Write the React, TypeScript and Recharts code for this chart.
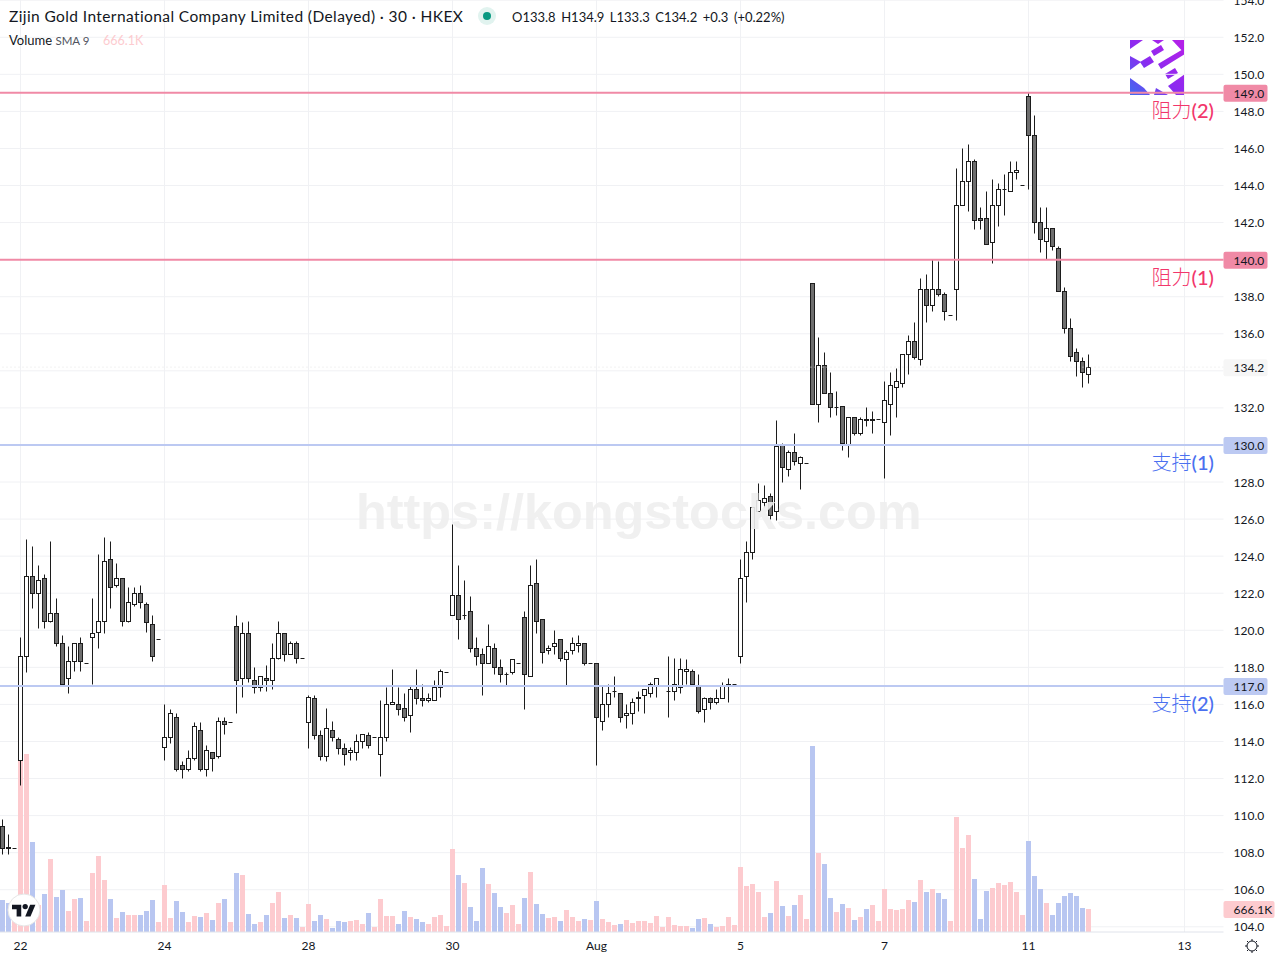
import React from 'react';
import { ComposedChart, Bar, XAxis, YAxis, CartesianGrid, ReferenceLine } from 'recharts';

const opens = [
  109.4, 108.3, 108.2, 113.0, 118.6, 122.9, 122.0, 122.8, 120.5, 120.9, 119.3, 117.4,
  118.3, 119.3, 118.2, 119.6, 119.9, 120.5, 123.8, 122.4, 122.8, 120.5, 121.4, 122.0, 121.4, 120.3, 119.5,
  113.7, 114.2, 115.3, 112.7, 112.5, 113.1, 114.6, 112.5, 113.4, 113.2, 115.1, 115.0,
  120.2, 117.4, 119.8, 117.3, 116.9, 117.4, 117.3, 118.5, 119.8, 118.7, 119.3, 118.5,
  115.0, 116.3, 114.3, 113.2, 114.6, 114.1, 113.6, 113.4, 113.4, 114.0, 114.3, 114.2,
  113.3, 114.2, 116.0, 116.0, 115.8, 115.4, 116.8, 116.3, 116.2, 116.2, 116.9, 117.7,
  120.8, 121.9, 120.8, 121.0, 119.0, 118.7, 118.2, 119.0, 118.0, 117.6, 117.7, 118.2,
  120.7, 117.5, 122.5, 120.6, 118.9, 119.1, 119.5, 118.4, 118.9, 119.2, 119.3, 118.2,
  118.2, 115.1, 116.0, 116.7, 116.6, 115.4, 115.5, 116.3, 116.5, 116.6, 117.0, 117.0,
  116.7, 116.7, 116.9, 117.8, 117.8, 117.0, 115.7, 116.3, 116.1, 116.3, 117.0, 117.1,
  118.6, 122.9, 124.2, 126.4, 126.9, 127.2, 126.4, 130.0, 128.7, 129.6, 129.0, 129.0,
  138.7, 132.2, 134.3, 132.8, 132.0, 132.1, 130.0, 131.5, 130.6, 131.4, 131.3, 131.4,
  131.2, 132.2, 133.1, 133.3, 134.9, 135.6, 134.6, 138.4, 137.5, 138.4, 138.1, 137.0,
  138.4, 142.9, 144.2, 145.3, 142.2, 142.2, 140.9, 142.9, 143.8, 143.7, 144.7, 144.0,
  148.8, 146.7, 142.0, 141.0, 141.7, 140.6, 138.3, 136.3, 135.0, 134.5, 133.8,
];
const highs = [
  109.8, 109.0, 108.2, 119.6, 124.9, 124.5, 123.5, 123.0, 124.8, 121.7, 119.7, 119.1,
  119.3, 119.6, 118.2, 121.7, 124.1, 125.0, 124.8, 123.6, 122.8, 122.3, 122.3, 122.4, 121.5, 120.8, 119.5,
  116.0, 115.7, 115.5, 112.9, 113.5, 115.0, 115.0, 113.8, 113.4, 115.3, 115.3, 115.0,
  120.8, 120.4, 120.5, 118.0, 117.5, 118.1, 119.3, 120.5, 119.8, 119.4, 119.4, 118.5,
  116.5, 116.5, 114.6, 115.8, 115.1, 114.2, 113.9, 113.7, 114.4, 114.4, 114.5, 114.2,
  116.2, 116.9, 117.9, 116.9, 116.6, 117.0, 117.9, 117.1, 116.6, 117.3, 117.9, 117.7,
  125.7, 123.5, 122.7, 121.8, 119.6, 119.0, 120.3, 119.3, 118.4, 117.7, 118.4, 118.2,
  121.0, 123.5, 123.8, 120.6, 119.2, 120.0, 119.5, 118.9, 119.6, 119.7, 119.3, 118.2,
  118.2, 117.0, 117.1, 117.5, 116.6, 116.0, 116.3, 116.7, 116.8, 117.2, 117.4, 117.0,
  118.6, 118.5, 118.5, 118.4, 117.9, 117.6, 116.4, 116.4, 116.8, 117.2, 117.4, 117.1,
  123.8, 124.8, 126.6, 127.9, 127.8, 127.4, 131.3, 130.1, 129.7, 130.6, 129.4, 129.0,
  138.7, 135.8, 135.0, 133.9, 132.9, 132.1, 131.5, 131.5, 131.5, 132.0, 131.8, 131.4,
  133.4, 133.9, 134.1, 134.9, 135.9, 136.6, 139.0, 139.2, 140.0, 139.9, 138.2, 137.0,
  144.9, 146.0, 146.2, 145.4, 142.8, 143.7, 144.3, 144.1, 144.6, 145.3, 145.3, 144.0,
  149.0, 147.8, 142.8, 142.8, 141.7, 140.7, 138.5, 136.8, 135.2, 134.7, 134.9,
];
const lows = [
  107.9, 107.9, 108.2, 111.6, 117.7, 121.2, 120.1, 120.1, 120.4, 119.1, 117.0, 116.6,
  117.8, 117.8, 118.2, 117.1, 119.0, 119.8, 121.2, 122.3, 120.2, 120.4, 121.3, 121.2, 119.9, 118.3, 119.5,
  113.0, 113.9, 112.4, 112.0, 112.4, 113.0, 112.4, 112.1, 112.4, 113.1, 114.4, 115.0,
  115.5, 116.4, 117.2, 116.6, 116.7, 116.7, 116.8, 118.4, 118.3, 118.7, 118.2, 118.5,
  113.6, 114.1, 113.0, 112.9, 114.0, 113.3, 112.7, 113.0, 113.0, 113.6, 113.6, 114.2,
  112.1, 114.0, 116.0, 115.4, 115.1, 114.5, 116.0, 115.9, 116.1, 116.2, 116.4, 117.7,
  120.8, 119.5, 120.6, 118.8, 118.1, 116.5, 118.2, 117.6, 117.2, 117.0, 117.6, 118.2,
  115.7, 117.5, 119.8, 118.2, 118.7, 118.7, 118.3, 117.0, 118.7, 118.8, 118.1, 118.2,
  112.7, 114.6, 115.3, 116.4, 115.0, 114.7, 114.9, 115.6, 115.5, 116.4, 116.4, 117.0,
  115.3, 116.2, 116.6, 117.1, 117.1, 115.5, 115.0, 115.7, 116.0, 116.3, 116.1, 117.1,
  118.2, 121.5, 123.8, 126.4, 126.6, 126.0, 125.9, 128.0, 128.3, 128.9, 127.6, 129.0,
  132.2, 131.2, 132.8, 131.5, 131.6, 129.7, 129.3, 130.5, 130.5, 131.0, 130.6, 131.4,
  128.2, 130.5, 131.5, 133.1, 133.8, 134.6, 134.3, 136.6, 137.2, 138.0, 136.7, 137.0,
  136.7, 142.9, 142.6, 141.6, 141.6, 140.8, 139.8, 141.8, 142.4, 143.7, 144.3, 144.0,
  143.8, 141.4, 140.4, 140.0, 140.5, 138.3, 136.0, 134.5, 133.7, 133.1, 133.3,
];
const closes = [
  108.2, 108.2, 108.2, 118.6, 122.9, 122.0, 122.7, 120.5, 120.9, 119.3, 117.1, 118.3,
  119.3, 118.3, 118.2, 119.8, 120.5, 123.7, 122.3, 122.8, 120.5, 121.5, 122.0, 121.5, 120.4, 118.6, 119.5,
  114.2, 115.5, 112.5, 112.5, 113.1, 114.8, 112.5, 113.5, 113.1, 115.1, 114.9, 115.0,
  117.3, 119.8, 117.4, 116.9, 117.5, 117.3, 118.5, 119.8, 118.7, 119.3, 118.5, 118.5,
  116.4, 114.3, 113.2, 114.7, 114.2, 113.6, 113.3, 113.5, 114.0, 114.4, 113.8, 114.2,
  114.2, 116.0, 116.1, 115.7, 115.3, 116.8, 116.3, 116.2, 116.3, 116.9, 117.8, 117.7,
  121.9, 120.6, 120.8, 119.0, 118.6, 118.2, 119.1, 118.0, 117.6, 117.6, 118.4, 118.2,
  117.6, 122.4, 120.5, 118.8, 119.0, 119.3, 118.5, 118.8, 119.3, 119.3, 118.2, 118.2,
  115.3, 116.0, 116.6, 116.7, 115.3, 115.5, 116.1, 116.4, 116.8, 117.1, 117.4, 117.0,
  116.7, 117.1, 117.9, 117.9, 117.1, 115.6, 116.3, 116.1, 116.3, 117.0, 117.1, 117.1,
  122.8, 124.2, 126.6, 127.0, 127.1, 126.2, 129.9, 128.8, 129.6, 129.1, 129.3, 129.0,
  132.2, 134.3, 132.8, 132.0, 132.0, 130.1, 131.5, 130.6, 131.4, 131.3, 131.4, 131.4,
  132.4, 133.2, 133.4, 134.9, 135.6, 134.7, 138.4, 137.5, 138.4, 138.1, 137.2, 137.0,
  142.9, 144.2, 145.3, 142.1, 142.1, 140.8, 142.9, 143.8, 143.8, 144.7, 144.8, 144.0,
  146.7, 142.0, 141.1, 141.7, 140.7, 138.3, 136.3, 134.8, 134.5, 133.9, 134.2,
];
// volume in thousands of shares
const volumes = [
  928, 841, 667, 5075, 5162, 2610, 783, 1102, 2117, 1015, 1218, 609,
  957, 986, 319, 1711, 2204, 1508, 957, 406, 580, 493, 493, 493, 609, 928, 290,
  1363, 406, 899, 580, 290, 464, 435, 551, 348, 841, 957, 290,
  1711, 1653, 522, 232, 290, 493, 841, 1160, 406, 493, 406, 145,
  812, 319, 493, 377, 116, 319, 290, 319, 348, 232, 551, 145,
  957, 464, 464, 232, 609, 435, 377, 290, 232, 435, 493, 174,
  2407, 1653, 1421, 725, 319, 1856, 1392, 1131, 725, 551, 783, 232,
  986, 1740, 812, 522, 406, 435, 319, 638, 435, 319, 377, 348,
  899, 377, 290, 203, 232, 348, 261, 319, 319, 261, 464, 145,
  435, 203, 174, 174, 116, 377, 406, 232, 145, 174, 435, 203,
  1885, 1334, 1392, 1160, 435, 551, 1479, 754, 464, 783, 1073, 377,
  5394, 2291, 1972, 986, 580, 812, 696, 348, 435, 667, 783, 319,
  1247, 667, 638, 667, 928, 870, 1508, 1160, 1247, 1131, 957, 319,
  3335, 2436, 2813, 1537, 377, 1189, 1276, 1421, 1363, 1450, 1160, 493,
  2639, 1624, 1247, 841, 493, 841, 1044, 1131, 1044, 696, 666,
];

const FUTURE_SLOTS = 22; // empty time slots right of the last bar
const dateTicks = [3, 27, 51, 75, 99, 123, 147, 171, 197];
const dateLabels = ['22', '24', '28', '30', 'Aug', '5', '7', '11', '13'];
const priceTicks = [104, 106, 108, 110, 112, 114, 116, 118, 120, 122, 124, 126, 128, 130, 132, 134, 136, 138, 140, 142, 144, 146, 148, 150, 152, 154];
const taggedTicks = [130, 134, 140]; // these axis labels sit under a price tag
const resistances = [149, 140];
const supports = [130, 117];
const lastPrice = 134.2;
const lastVolume = 666;

const data = Array.from({ length: opens.length + FUTURE_SLOTS }, (_, slot) => ({
  slot,
  open: opens[slot],
  high: highs[slot],
  low: lows[slot],
  close: closes[slot],
  volume: volumes[slot],
}));

const FONT = 'Lato, "Open Sans", sans-serif';
const INK = '#131722';

const snap = (v: number) => Math.floor(v) + 0.5;

const Candle = (props: any) => {
  const { x, y, width, height, payload } = props;
  if (payload.open === undefined) return null;
  const { open, high, low, close } = payload;
  const span = high - low || 1;
  const h = Math.abs(height);
  const top = Math.min(y, y + height);
  const yOf = (v: number) => top + ((high - v) / span) * h;
  const cx = snap(x + width / 2) - 1; // recharts rounds the bar offset inside a 6px band
  const bodyTop = snap(yOf(Math.max(open, close)));
  const bodyBottom = snap(yOf(Math.min(open, close)));
  const left = cx - 2;
  if (high === low) {
    return <line x1={left} x2={left + 4} y1={bodyTop} y2={bodyTop} stroke="#1c1c1c" />;
  }
  return (
    <g>
      <line x1={cx} x2={cx} y1={snap(top)} y2={snap(top + h)} stroke="#1c1c1c" />
      {bodyTop === bodyBottom ? (
        <line x1={left} x2={left + 4} y1={bodyTop} y2={bodyTop} stroke="#1c1c1c" />
      ) : (
        <rect x={left} y={bodyTop} width={4} height={bodyBottom - bodyTop} stroke="#1c1c1c" fill={close >= open ? '#ffffff' : '#6e6e6e'} />
      )}
    </g>
  );
};

const VolumeBar = (props: any) => {
  const { x, y, width, height, payload } = props;
  return <rect x={Math.floor(x)} y={y} width={width} height={height} fill={payload.close >= payload.open ? '#fdcbcf' : '#b8c6f1'} />;
};

const PriceTick = ({ x, y, payload }: any) => {
  if (taggedTicks.includes(payload.value)) return null;
  return (
    <text x={x} y={y + 4.5} fontSize={12} fontFamily={FONT} fill={INK}>{payload.value.toFixed(1)}</text>
  );
};

const PriceTag = ({ viewBox, text, fill, tagWidth = 44 }: any) => {
  const right = viewBox.x + viewBox.width;
  const cy = viewBox.y;
  return (
    <g>
      <rect x={right} y={cy - 8} width={tagWidth} height={17} rx={2} fill={fill} />
      <text x={right + 10} y={cy + 5} fontSize={12} fontFamily={FONT} fill={INK}>{text}</text>
    </g>
  );
};

const Note = ({ top, color, cjk, num }: any) => (
  <div style={{ position: 'absolute', top, right: 66, height: 26, lineHeight: '26px', color, fontSize: 20, whiteSpace: 'nowrap' }}>
    <span style={{ fontFamily: '"Noto Sans CJK SC"', fontWeight: 300 }}>{cjk}</span>
    <span style={{ fontFamily: FONT, fontWeight: 500 }}>({num})</span>
  </div>
);

const Logo = () => (
  <svg width={55} height={55} style={{ position: 'absolute', left: 1130, top: 40 }}>
    <defs>
      <linearGradient id="logoFill" gradientUnits="userSpaceOnUse" x1="55" y1="0" x2="0" y2="55">
        <stop offset="0" stopColor="#b81fe8" />
        <stop offset="0.55" stopColor="#8a2bf0" />
        <stop offset="1" stopColor="#3f6cf0" />
      </linearGradient>
    </defs>
    <rect width={55} height={55} fill="#ffffff" />
    <g fill="url(#logoFill)">
      <polygon points="0,0 13,0 0,9" />
      <polygon points="22,0 34,0 28,4" />
      <polygon points="42,0 55,0 55,14" />
      <polygon points="0,16 11,22 0,30" />
      <polygon points="21,11 31,5 34,10 24,16" />
      <polygon points="28,24 38,18 55,8 55,14 42,22 31,29" />
      <polygon points="35,34 45,28 48,33 38,39" />
      <polygon points="0,38 14,48 20,55 0,55" />
      <polygon points="26,48 38,55 24,55" />
      <polygon points="38,46 55,34 55,55 46,55" />
      <polygon points="10,22 20,16 24,22 14,28" />
    </g>
  </svg>
);

const TvBadge = () => (
  <svg width={34} height={34} style={{ position: 'absolute', left: 7, top: 893 }}>
    <circle cx={17} cy={17} r={16} fill="#ffffff" stroke="#e6e6e6" />
    <g transform="translate(5 9) scale(0.66)" fill={INK}>
      <path d="M14 22H7V11H0V4h14v18z" />
      <path d="M28 22h-8l7.5-18h8L28 22z" />
      <circle cx="20" cy="7" r="4" />
    </g>
  </svg>
);

const Gear = () => (
  <svg width={16} height={16} style={{ position: 'absolute', left: 1244, top: 938 }}>
    <circle cx={8} cy={8} r={5} fill="none" stroke={INK} strokeWidth={1} />
    <path d="M8 1v2M8 13v2M1 8h2M13 8h2M3 3l1.4 1.4M11.6 11.6L13 13M13 3l-1.4 1.4M4.4 11.6L3 13" stroke={INK} strokeWidth={1} />
  </svg>
);

export default function App() {
  return (
    <div style={{ position: 'absolute', left: 0, top: 0, width: 1280, height: 960, overflow: 'hidden', background: '#fff', fontFamily: FONT, color: INK }}>
      <Logo />
      <div style={{ position: 'absolute', left: 0, top: 0 }}>
        <ComposedChart width={1280} height={960} data={data} margin={{ top: 0, right: 0.5, bottom: 0, left: -0.5 }} barCategoryGap={0}>
          <CartesianGrid xAxisId="price" yAxisId="price" stroke="#f0f1f4" syncWithTicks />
          <XAxis
            xAxisId="price"
            dataKey="slot"
            ticks={dateTicks}
            interval={0}
            tickFormatter={(v: number) => dateLabels[dateTicks.indexOf(v)]}
            tick={{ fontSize: 12, fill: INK, fontFamily: FONT }}
            tickLine={false}
            tickMargin={3}
            axisLine={{ stroke: '#e0e3eb' }}
            height={28}
          />
          <XAxis xAxisId="volume" dataKey="slot" hide />
          <YAxis
            yAxisId="price"
            orientation="right"
            domain={[103.72, 154.01]}
            allowDataOverflow
            ticks={priceTicks}
            interval={0}
            width={56}
            tick={<PriceTick />}
            tickLine={false}
            tickSize={0}
            tickMargin={10}
            axisLine={false}
          />
          <YAxis yAxisId="volume" orientation="left" hide domain={[0, 27028]} allowDataOverflow />
          {resistances.map(v => (
            <ReferenceLine key={v} xAxisId="price" yAxisId="price" y={v} stroke="#f08aa6" strokeWidth={2} />
          ))}
          {supports.map(v => (
            <ReferenceLine key={v} xAxisId="price" yAxisId="price" y={v} stroke="#bcc9f2" strokeWidth={2} />
          ))}
          <ReferenceLine xAxisId="price" yAxisId="price" y={lastPrice} stroke="#e4e4e4" strokeDasharray="1 3" />
          <Bar xAxisId="volume" yAxisId="volume" dataKey="volume" barSize={5} shape={VolumeBar} isAnimationActive={false} />
          <Bar
            xAxisId="price"
            yAxisId="price"
            dataKey={(d: any) => (d.open === undefined ? null : [d.low, d.high])}
            barSize={5}
            shape={Candle}
            isAnimationActive={false}
          />
          {resistances.map(v => (
            <ReferenceLine key={v} xAxisId="price" yAxisId="price" y={v} stroke="none" label={<PriceTag text={v.toFixed(1)} fill="#f08aa6" />} />
          ))}
          {supports.map(v => (
            <ReferenceLine key={v} xAxisId="price" yAxisId="price" y={v} stroke="none" label={<PriceTag text={v.toFixed(1)} fill="#bcc9f2" />} />
          ))}
          <ReferenceLine xAxisId="price" yAxisId="price" y={lastPrice} stroke="none" label={<PriceTag text={lastPrice.toFixed(1)} fill="#f6f6f6" />} />
          <ReferenceLine xAxisId="volume" yAxisId="volume" y={lastVolume} stroke="none" label={<PriceTag text="666.1K" fill="#fdcbcf" tagWidth={51} />} />
        </ComposedChart>
      </div>

      <div style={{ position: 'absolute', left: 356, top: 482, fontFamily: '"Liberation Sans"', fontWeight: 700, fontSize: 50.4, lineHeight: '60px', color: '#efefef', opacity: 0.9, whiteSpace: 'nowrap' }}>
        https://kongstocks.com
      </div>

      <Note top={97} color="#f2366b" cjk="阻力" num={2} />
      <Note top={264} color="#f2366b" cjk="阻力" num={1} />
      <Note top={449} color="#4a70f0" cjk="支持" num={1} />
      <Note top={690} color="#4a70f0" cjk="支持" num={2} />

      <div style={{ position: 'absolute', left: 9, top: 6, fontSize: 15.5, letterSpacing: 0.4, lineHeight: '20px', whiteSpace: 'nowrap' }}>
        Zijin Gold International Company Limited (Delayed) · 30 · HKEX
      </div>
      <svg width={20} height={20} style={{ position: 'absolute', left: 477, top: 6 }}>
        <circle cx={10} cy={10} r={9} fill="#e1f3ef" />
        <circle cx={10} cy={10} r={4} fill="#089981" />
      </svg>
      <div style={{ position: 'absolute', left: 512, top: 7, fontSize: 13, lineHeight: '20px', whiteSpace: 'nowrap', wordSpacing: 2.2 }}>
        O133.8 H134.9 L133.3 C134.2 +0.3 (+0.22%)
      </div>
      <div style={{ position: 'absolute', left: 9, top: 31, fontSize: 13, lineHeight: '18px', whiteSpace: 'nowrap' }}>
        Volume <span style={{ color: '#50535e', fontSize: 11.5 }}>SMA 9</span>
      </div>
      <div style={{ position: 'absolute', left: 103, top: 32, fontSize: 12.5, lineHeight: '18px', color: '#fdcbcf' }}>666.1K</div>

      <TvBadge />
      <Gear />
    </div>
  );
}
